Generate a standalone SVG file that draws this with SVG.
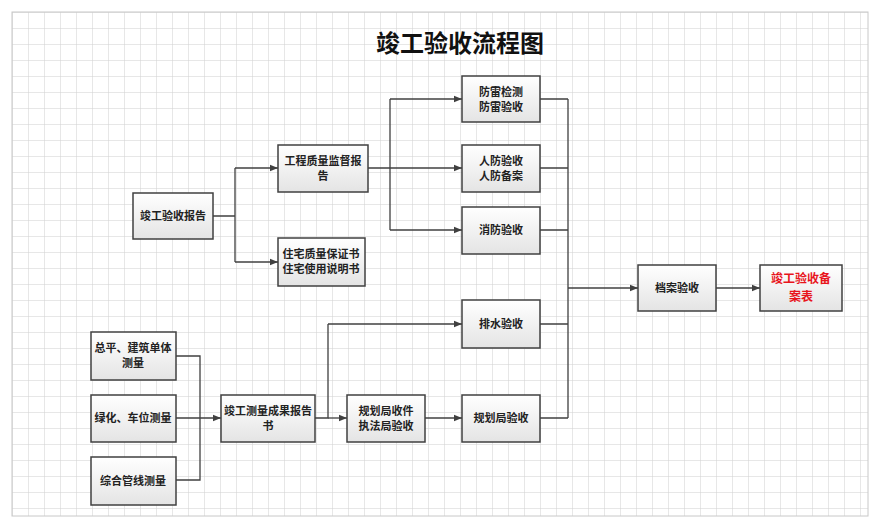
<svg xmlns="http://www.w3.org/2000/svg" width="880" height="528" viewBox="0 0 880 528">
<defs>
<pattern id="g" width="16" height="16" patternUnits="userSpaceOnUse" x="12" y="12"><path d="M16 0H0V16" fill="none" stroke="#d0d0d0" stroke-width="1"/></pattern>
<linearGradient id="bf" x1="0" y1="0" x2="0" y2="1"><stop offset="0" stop-color="#ffffff"/><stop offset="1" stop-color="#e4e4e4"/></linearGradient>
<marker id="a" viewBox="0 0 10 10" refX="10" refY="5" markerWidth="8" markerHeight="8" orient="auto" markerUnits="userSpaceOnUse"><path d="M0 1L10 5L0 9Z" fill="#404040"/></marker>
</defs>
<style>
.b{fill:url(#bf);stroke:#404040;stroke-width:1.5}
.t{font-family:"Noto Sans CJK SC",sans-serif;font-size:11px;font-weight:bold;fill:#222;text-anchor:middle}
.r{font-family:"Noto Sans CJK SC",sans-serif;font-size:12px;font-weight:bold;fill:#e8141c;text-anchor:middle}
.c{fill:none;stroke:#404040;stroke-width:1.3}
</style>
<rect width="880" height="528" fill="#fff"/>
<rect x="12" y="12" width="856" height="504" fill="url(#g)" stroke="#c8c8c8"/>
<text x="460" y="52" font-family="Noto Sans CJK SC,sans-serif" font-size="24" font-weight="bold" text-anchor="middle" fill="#111">竣工验收流程图</text>
<g id="connectors">
<path class="c" d="M213 216H235M235 168V262"/><path class="c" marker-end="url(#a)" d="M235 168H278"/><path class="c" marker-end="url(#a)" d="M235 262H278"/>
<path class="c" d="M368 168H390M390 99V230"/><path class="c" marker-end="url(#a)" d="M390 99H462"/><path class="c" marker-end="url(#a)" d="M390 168H462"/><path class="c" marker-end="url(#a)" d="M390 230H462"/>
<path class="c" d="M176 356H200V480H176"/><path class="c" marker-end="url(#a)" d="M176 418H221"/>
<path class="c" d="M315 418H328V324"/><path class="c" marker-end="url(#a)" d="M328 324H462"/><path class="c" marker-end="url(#a)" d="M328 418H347"/><path class="c" marker-end="url(#a)" d="M425 418H462"/>
<path class="c" d="M540 99H568M540 168H568M540 230H568M540 324H568M540 418H568M568 99V418"/><path class="c" marker-end="url(#a)" d="M568 288H638"/><path class="c" marker-end="url(#a)" d="M716 288H760"/>
</g>
<g id="n1"><rect class="b" x="133" y="193" width="80" height="46"/><text class="t" x="173" y="220">竣工验收报告</text></g>
<g id="n2"><rect class="b" x="278" y="145" width="90" height="47"/><text class="t" x="323" y="165">工程质量监督报</text><text class="t" x="323" y="180">告</text></g>
<g id="n3"><rect class="b" x="278" y="238" width="87" height="48"/><text class="t" x="321" y="258">住宅质量保证书</text><text class="t" x="321" y="273">住宅使用说明书</text></g>
<g id="n4"><rect class="b" x="462" y="76" width="78" height="46"/><text class="t" x="501" y="96">防雷检测</text><text class="t" x="501" y="111">防雷验收</text></g>
<g id="n5"><rect class="b" x="462" y="145" width="78" height="47"/><text class="t" x="501" y="165">人防验收</text><text class="t" x="501" y="180">人防备案</text></g>
<g id="n6"><rect class="b" x="462" y="207" width="78" height="47"/><text class="t" x="501" y="234">消防验收</text></g>
<g id="n7"><rect class="b" x="462" y="300" width="78" height="48"/><text class="t" x="501" y="328">排水验收</text></g>
<g id="n8"><rect class="b" x="462" y="395" width="78" height="47"/><text class="t" x="501" y="422">规划局验收</text></g>
<g id="n9"><rect class="b" x="91" y="332" width="85" height="48"/><text class="t" x="133" y="352">总平、建筑单体</text><text class="t" x="133" y="367">测量</text></g>
<g id="n10"><rect class="b" x="91" y="395" width="85" height="47"/><text class="t" x="133" y="422">绿化、车位测量</text></g>
<g id="n11"><rect class="b" x="91" y="457" width="85" height="48"/><text class="t" x="133" y="485">综合管线测量</text></g>
<g id="n12"><rect class="b" x="221" y="395" width="94" height="47"/><text class="t" x="268" y="415">竣工测量成果报告</text><text class="t" x="268" y="430">书</text></g>
<g id="n13"><rect class="b" x="347" y="395" width="78" height="47"/><text class="t" x="386" y="415">规划局收件</text><text class="t" x="386" y="430">执法局验收</text></g>
<g id="n14"><rect class="b" x="638" y="265" width="78" height="46"/><text class="t" x="677" y="292">档案验收</text></g>
<g id="n15"><rect class="b" x="760" y="265" width="82" height="46"/><text class="r" x="801" y="283">竣工验收备</text><text class="r" x="801" y="301">案表</text></g>
</svg>
